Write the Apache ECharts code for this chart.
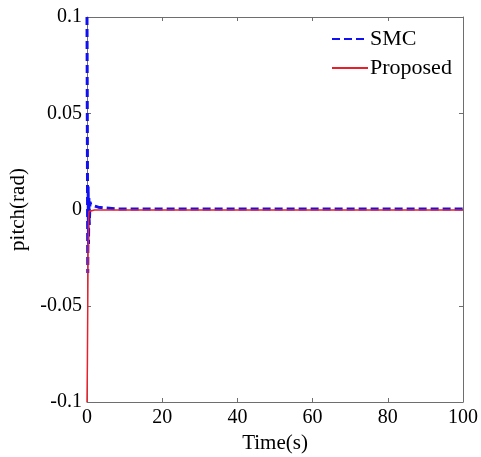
<!DOCTYPE html>
<html>
<head>
<meta charset="utf-8">
<script src="https://cdn.jsdelivr.net/npm/echarts@6/dist/echarts.min.js"></script>
<style>
  html, body { margin: 0; padding: 0; background: #fff; }
  #chartBox { width: 481px; height: 457px; }
</style>
</head>
<body>
<div id="chartBox"></div>
<script>
// 数据
const smcTime = [0, 0.05, 0.1, 0.2, 0.3, 0.4, 0.5, 0.6, 0.8, 1, 1.5, 2, 3, 5, 8, 20, 100]
const smcPitch = [0.1, 0.07, 0.035, -0.033, 0.012, -0.018, 0.006, -0.008, 0.004, 0.0025, 0.002, 0.0018, 0.0012, 0.0008, 0.0003, 0.0002, 0.0002]
const propTime = [0, 0.1, 0.2, 0.3, 0.4, 0.5, 0.7, 1, 2, 100]
const propPitch = [-0.1, -0.08, -0.05, -0.02, -0.006, -0.001, 0, 0, -0.0003, -0.0003]
const xTicks = [0, 20, 40, 60, 80, 100]
const yTicks = [-0.1, -0.05, 0, 0.05, 0.1]

const zip = (xs, ys) => xs.map((x, i) => [x, ys[i]])

const font = "'Liberation Serif', 'Times New Roman', serif"
const chart = echarts.init(document.getElementById('chartBox'), null, { renderer: 'canvas' })

const baseAxis = {
  axisLine: { show: true, onZero: false, lineStyle: { color: '#6e6e6e', width: 1 } },
  axisTick: { show: true, inside: true, length: 4, lineStyle: { color: '#6e6e6e' } },
  splitLine: { show: false }
}

const option = {
  animation: false,
  backgroundColor: '#fff',
  grid: { left: 87, right: 18, top: 17, bottom: 55, containLabel: false, outerBoundsMode: 'none' },
  legend: {
    left: 326, top: 23, orient: 'vertical',
    itemWidth: 36, itemHeight: 14, itemGap: 7,
    itemStyle: { opacity: 0 },
    textStyle: { fontFamily: font, fontSize: 22, lineHeight: 22, color: '#000', padding: [0, 0, 0, -3] },
    data: ['SMC', 'Proposed']
  },
  xAxis: [
    Object.assign({}, baseAxis, {
      type: 'value', min: 0, max: 100, interval: 20, position: 'bottom',
      name: 'Time(s)', nameLocation: 'middle', nameGap: 30,
      nameTextStyle: { fontFamily: font, fontSize: 21, color: '#000' },
      axisLabel: { fontFamily: font, fontSize: 20, color: '#000', margin: 6,
        formatter: v => xTicks.includes(v) ? String(v) : '' }
    }),
    Object.assign({}, baseAxis, {
      type: 'value', min: 0, max: 100, interval: 20, position: 'top',
      axisLabel: { show: false }
    })
  ],
  yAxis: [
    Object.assign({}, baseAxis, {
      type: 'value', min: -0.1, max: 0.1, interval: 0.05, position: 'left',
      name: 'pitch(rad)', nameLocation: 'middle', nameGap: 58,
      nameTextStyle: { fontFamily: font, fontSize: 21, color: '#000' },
      axisLabel: { fontFamily: font, fontSize: 20, color: '#000', margin: 5,
        formatter: v => {
          const t = yTicks.find(k => Math.abs(k - v) < 1e-9)
          return t === undefined ? '' : String(t)
        } }
    }),
    Object.assign({}, baseAxis, {
      type: 'value', min: -0.1, max: 0.1, interval: 0.05, position: 'right',
      axisLabel: { show: false }
    })
  ],
  series: [
    {
      name: 'SMC', type: 'line', symbol: 'none', data: zip(smcTime, smcPitch),
      itemStyle: { color: '#1010f0' },
      lineStyle: { color: '#1010f0', width: 3, type: [8, 4] },
      z: 3
    },
    {
      name: 'Proposed', type: 'line', symbol: 'none', data: zip(propTime, propPitch),
      itemStyle: { color: '#e8202a' },
      lineStyle: { color: '#e8202a', width: 1.5 },
      z: 4
    }
  ]
}
chart.setOption(option)
</script>
</body>
</html>
